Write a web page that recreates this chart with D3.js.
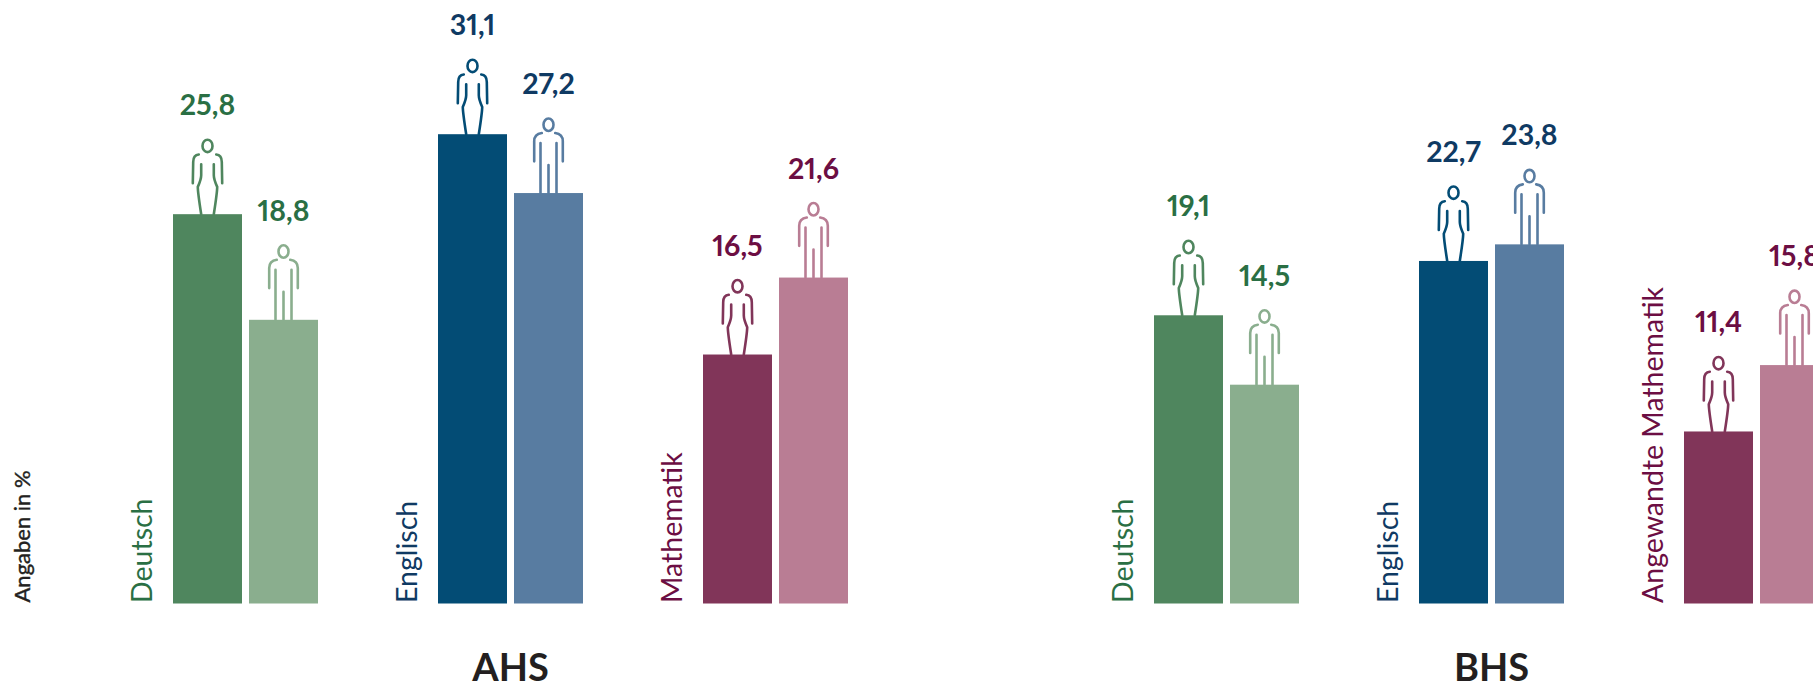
<!DOCTYPE html>
<html>
<head>
<meta charset="utf-8">
<script src="https://d3js.org/d3.v7.min.js"></script>
<style>
html, body { margin: 0; padding: 0; background: #fff; overflow: hidden; }
text { font-family: Lato, "Open Sans", sans-serif; font-variant-numeric: proportional-nums; }
</style>
</head>
<body>
<div id="chart"></div>
<script>
var schools = ["AHS", "BHS"];
var subjects = [
    ["Deutsch", "Englisch", "Mathematik"],
    ["Deutsch", "Englisch", "Angewandte Mathematik"]
];
var girls = [
    [25.8, 31.1, 16.5],
    [19.1, 22.7, 11.4]
];
var boys = [
    [18.8, 27.2, 21.6],
    [14.5, 23.8, 15.8]
];
var darkColors = ["#4f865e", "#034c75", "#813559"];
var lightColors = ["#8aae8e", "#587ca1", "#b97d94"];
var textColors = ["#2a6f44", "#0f3a63", "#6c0e43"];

var width = 1813, height = 685, baseline = 603.5;

var fmt = d3.formatLocale({decimal: ",", thousands: ".", grouping: [3], currency: ["", ""]}).format(".1f");

var svg = d3.select("#chart").append("svg")
    .attr("width", width)
    .attr("height", height)
    .style("display", "block");

var xSchool = d3.scaleBand().domain(schools).range([173, 173 + 981 * 2]);
var xSubject = d3.scaleBand().domain([0, 1, 2]).range([0, 795]);
var xSex = d3.scaleBand().domain(["w", "m"]).range([0, 145]).paddingInner(7 / 76).paddingOuter(0);
var y = d3.scaleLinear().domain([0, 30]).range([baseline, baseline - 30 * 15.09]);

// figures stand on the bar, origin = middle of the bar top
var womanIcon = "M-8.7,-59.7Q-14.3,-59 -14.3,-52.3L-14.7,-31"
    + "M8.7,-59.7Q14.3,-59 14.3,-52.3L14.7,-31"
    + "M-6.3,-50L-6.3,-39Q-6.3,-35 -9.7,-27.3Q-9.7,-22 -6.3,0"
    + "M6.3,-50L6.3,-39Q6.3,-35 9.7,-27.3Q9.7,-22 6.3,0";
var manIcon = "M-6.7,-60Q-14.3,-59 -14.3,-51.7L-14.3,-31.7"
    + "M6.7,-60Q14.3,-59 14.3,-51.7L14.3,-31.7"
    + "M-8,-50L-8,0M8,-50L8,0M0,-28L0,0";

function drawIcon(x, top, color, path){
    var g = svg.append("g")
        .attr("transform", "translate(" + x + "," + top + ")")
        .attr("fill", "none")
        .attr("stroke", color)
        .attr("stroke-width", 2.6)
        .attr("stroke-linecap", "round");
    g.append("ellipse")
        .attr("cx", 0)
        .attr("cy", -68.3)
        .attr("rx", 5)
        .attr("ry", 6.2);
    g.append("path").attr("d", path);
}

schools.forEach(function(school, s){
    subjects[s].forEach(function(subject, i){
        var left = xSchool(school) + xSubject(i);

        svg.append("text")
            .attr("transform", "translate(" + (left - 21.5) + "," + (baseline - 0.5) + ") rotate(-90)")
            .attr("fill", textColors[i])
            .attr("font-size", 28.5)
            .text(subject);

        [["w", girls[s][i], darkColors[i], womanIcon], ["m", boys[s][i], lightColors[i], manIcon]].forEach(function(d){
            var x = left + xSex(d[0]);
            var top = y(d[1]);
            var cx = x + xSex.bandwidth() / 2;

            svg.append("rect")
                .attr("x", x)
                .attr("y", top)
                .attr("width", xSex.bandwidth())
                .attr("height", baseline - top)
                .attr("fill", d[2]);

            drawIcon(cx, top, d[2], d[3]);

            svg.append("text")
                .attr("x", cx)
                .attr("y", top - 99)
                .attr("text-anchor", "middle")
                .attr("fill", textColors[i])
                .attr("font-size", 28.5)
                .attr("font-weight", 700)
                .text(fmt(d[1]));
        });
    });

    svg.append("text")
        .attr("x", xSchool(school) + xSubject(1) + 72.5)
        .attr("y", 681)
        .attr("text-anchor", "middle")
        .attr("fill", "#231f20")
        .attr("font-size", 38)
        .attr("font-weight", 700)
        .text(school);
});

svg.append("text")
    .attr("transform", "translate(30," + (baseline - 1) + ") rotate(-90)")
    .attr("fill", "#231f20")
    .attr("stroke", "#231f20")
    .attr("stroke-width", 0.4)
    .attr("font-size", 22)
    .text("Angaben in %");
</script>
</body>
</html>
